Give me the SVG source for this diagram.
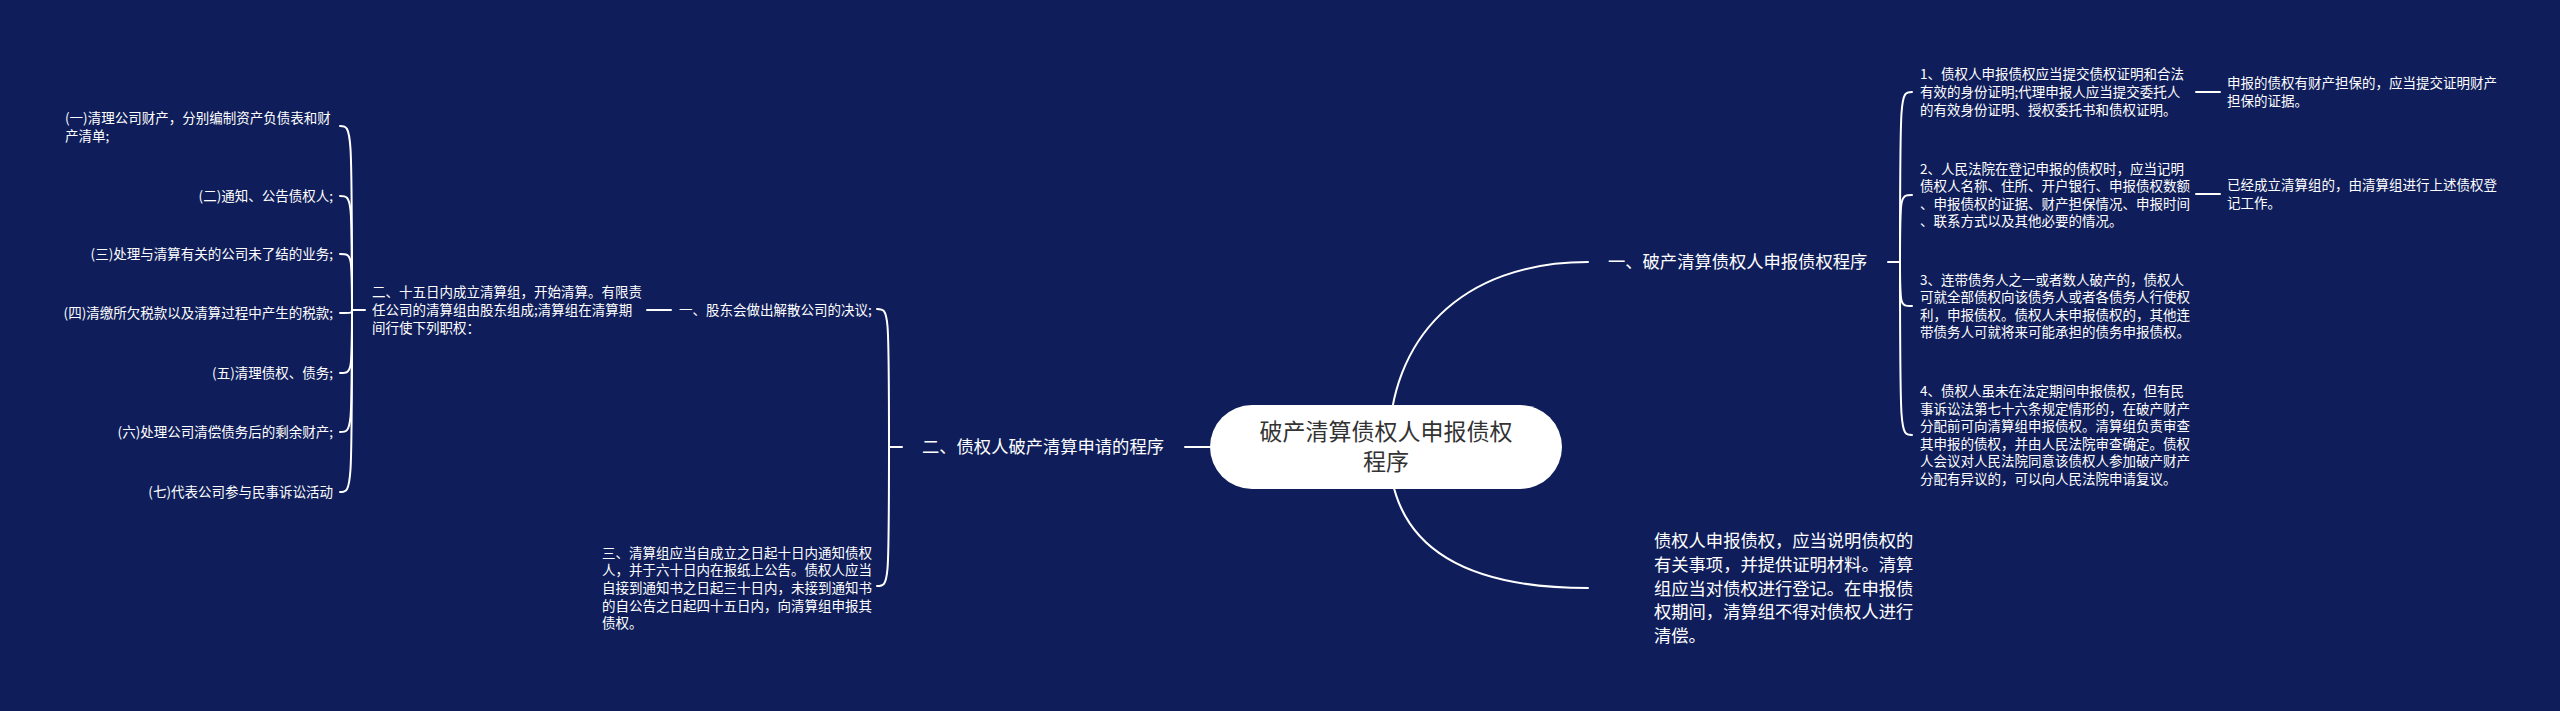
<svg xmlns="http://www.w3.org/2000/svg" width="2560" height="711" viewBox="0 0 2560 711">
<defs>
<style>
.bg{fill:#0f1e5a}
.c{fill:none;stroke:#ffffff;stroke-width:2;stroke-linecap:round}
.s{font-family:"Noto Sans CJK SC","Noto Sans",sans-serif;font-size:13.5px;fill:#ffffff}
.m{font-family:"Noto Sans CJK SC","Noto Sans",sans-serif;font-size:17.3px;fill:#ffffff}
.e{text-anchor:end}
.root{fill:#ffffff}
.rt{font-family:"Noto Sans CJK SC","Noto Sans",sans-serif;font-size:23px;fill:#333333;text-anchor:middle}
</style>
</defs>
<rect class="bg" x="0" y="0" width="2560" height="711"/>
<g id="connectors">
<path class="c" d="M1389 447 C1389 340 1460 262 1588 262"/>
<path class="c" d="M1389 447 C1389 530 1440 588 1588 588"/>
<path class="c" d="M1185 447 H1210"/>
<path class="c" d="M1888 262 H1900"/>
<path class="c" d="M1900 262 C1900 92 1900 92 1912 92"/>
<path class="c" d="M1900 262 C1900 195 1900 195 1912 195"/>
<path class="c" d="M1900 262 C1900 306 1900 306 1912 306"/>
<path class="c" d="M1900 262 C1900 435 1900 435 1912 435"/>
<path class="c" d="M2196 92 H2220"/>
<path class="c" d="M2196 194 H2220"/>
<path class="c" d="M902 447 H889"/>
<path class="c" d="M889 447 C889 309 889 309 877 309"/>
<path class="c" d="M889 447 C889 586 889 586 877 586"/>
<path class="c" d="M671 310 H647"/>
<path class="c" d="M365 310 H352"/>
<path class="c" d="M352 310 C352 126 352 126 340 126"/>
<path class="c" d="M352 310 C352 196 352 196 340 196"/>
<path class="c" d="M352 310 C352 254 352 254 340 254"/>
<path class="c" d="M352 310 C352 313 352 313 340 313"/>
<path class="c" d="M352 310 C352 373 352 373 340 373"/>
<path class="c" d="M352 310 C352 432 352 432 340 432"/>
<path class="c" d="M352 310 C352 492 352 492 340 492"/>
</g>
<g id="root">
<rect class="root" x="1210" y="405" width="352" height="84" rx="42"/>
<text class="rt" x="1386" y="440">破产清算债权人申报债权</text>
<text class="rt" x="1386" y="470">程序</text>
</g>
<g id="n-right1">
<text class="m" x="1608" y="268">一、破产清算债权人申报债权程序</text>
</g>
<g id="n-r1">
<text class="s" x="1920" y="79">1、债权人申报债权应当提交债权证明和合法</text>
<text class="s" x="1920" y="97">有效的身份证明;代理申报人应当提交委托人</text>
<text class="s" x="1920" y="114.6">的有效身份证明、授权委托书和债权证明。</text>
</g>
<g id="n-r1a">
<text class="s" x="2227" y="88.2">申报的债权有财产担保的，应当提交证明财产</text>
<text class="s" x="2227" y="105.8">担保的证据。</text>
</g>
<g id="n-r2">
<text class="s" x="1920" y="173.6">2、人民法院在登记申报的债权时，应当记明</text>
<text class="s" x="1920" y="191.2">债权人名称、住所、开户银行、申报债权数额</text>
<text class="s" x="1920" y="208.8">、申报债权的证据、财产担保情况、申报时间</text>
<text class="s" x="1920" y="226.4">、联系方式以及其他必要的情况。</text>
</g>
<g id="n-r2a">
<text class="s" x="2227" y="190.2">已经成立清算组的，由清算组进行上述债权登</text>
<text class="s" x="2227" y="207.8">记工作。</text>
</g>
<g id="n-r3">
<text class="s" x="1920" y="284.6">3、连带债务人之一或者数人破产的，债权人</text>
<text class="s" x="1920" y="302.2">可就全部债权向该债务人或者各债务人行使权</text>
<text class="s" x="1920" y="319.8">利，申报债权。债权人未申报债权的，其他连</text>
<text class="s" x="1920" y="337.4">带债务人可就将来可能承担的债务申报债权。</text>
</g>
<g id="n-r4">
<text class="s" x="1920" y="396">4、债权人虽未在法定期间申报债权，但有民</text>
<text class="s" x="1920" y="413.6">事诉讼法第七十六条规定情形的，在破产财产</text>
<text class="s" x="1920" y="431.2">分配前可向清算组申报债权。清算组负责审查</text>
<text class="s" x="1920" y="448.8">其申报的债权，并由人民法院审查确定。债权</text>
<text class="s" x="1920" y="466.4">人会议对人民法院同意该债权人参加破产财产</text>
<text class="s" x="1920" y="484">分配有异议的，可以向人民法院申请复议。</text>
</g>
<g id="n-right2">
<text class="m" x="1654" y="547.1">债权人申报债权，应当说明债权的</text>
<text class="m" x="1654" y="570.8">有关事项，并提供证明材料。清算</text>
<text class="m" x="1654" y="594.5">组应当对债权进行登记。在申报债</text>
<text class="m" x="1654" y="618.2">权期间，清算组不得对债权人进行</text>
<text class="m" x="1654" y="641.9">清偿。</text>
</g>
<g id="n-left">
<text class="m" x="922" y="453">二、债权人破产清算申请的程序</text>
</g>
<g id="n-l1">
<text class="s" x="679" y="315">一、股东会做出解散公司的决议;</text>
</g>
<g id="n-l1a">
<text class="s" x="372" y="297.4">二、十五日内成立清算组，开始清算。有限责</text>
<text class="s" x="372" y="315">任公司的清算组由股东组成;清算组在清算期</text>
<text class="s" x="372" y="332.6">间行使下列职权：</text>
</g>
<g id="n-l2">
<text class="s" x="602" y="557.8">三、清算组应当自成立之日起十日内通知债权</text>
<text class="s" x="602" y="575.4">人，并于六十日内在报纸上公告。债权人应当</text>
<text class="s" x="602" y="593">自接到通知书之日起三十日内，未接到通知书</text>
<text class="s" x="602" y="610.6">的自公告之日起四十五日内，向清算组申报其</text>
<text class="s" x="602" y="628.2">债权。</text>
</g>
<g id="n-k1">
<text class="s" x="65" y="123">(一)清理公司财产，分别编制资产负债表和财</text>
<text class="s" x="65" y="140.6">产清单;</text>
</g>
<g id="n-k2"><text class="s e" x="333" y="201">(二)通知、公告债权人;</text></g>
<g id="n-k3"><text class="s e" x="333" y="259">(三)处理与清算有关的公司未了结的业务;</text></g>
<g id="n-k4"><text class="s e" x="333" y="318">(四)清缴所欠税款以及清算过程中产生的税款;</text></g>
<g id="n-k5"><text class="s e" x="333" y="378">(五)清理债权、债务;</text></g>
<g id="n-k6"><text class="s e" x="333" y="437">(六)处理公司清偿债务后的剩余财产;</text></g>
<g id="n-k7"><text class="s e" x="333" y="497">(七)代表公司参与民事诉讼活动</text></g>
</svg>
